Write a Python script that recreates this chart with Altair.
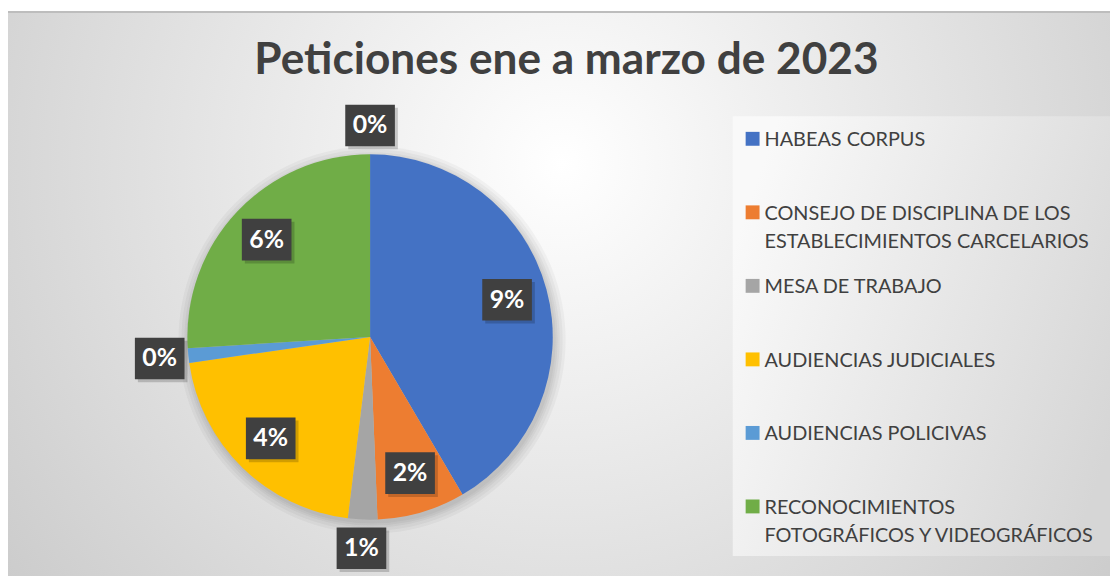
import altair as alt
import pandas as pd

title_text = "Peticiones ene a marzo de 2023"
categories = [
    "HABEAS CORPUS",
    "CONSEJO DE DISCIPLINA DE LOS|ESTABLECIMIENTOS CARCELARIOS",
    "MESA DE TRABAJO",
    "AUDIENCIAS JUDICIALES",
    "AUDIENCIAS POLICIVAS",
    "RECONOCIMIENTOS|FOTOGRÁFICOS Y VIDEOGRÁFICOS",
    "OTROS",
]
values = [32, 6, 2, 16, 1, 20, 0]
labels = ["9%", "2%", "1%", "4%", "0%", "6%", "0%"]
colors = ["#4472C4", "#ED7D31", "#A5A5A5", "#FFC000", "#5B9BD5", "#70AD47", "#7F7F7F"]
legend_cats = categories[:6]

df = pd.DataFrame({"cat": categories, "v": values, "label": labels, "i": list(range(len(values)))})

W, H = 1110, 568
CX, CY = 364.7, 329.3
R = 184
R_IN = 143
R_OUT = 213
BW, BH = 50, 42

color_scale = alt.Scale(domain=categories, range=colors)

gradient = {
    "gradient": "radial",
    "x1": 0.5, "y1": 0.38, "r1": 0,
    "x2": 0.5, "y2": 0.38, "r2": 0.72,
    "stops": [
        {"offset": 0, "color": "#ffffff"},
        {"offset": 1, "color": "#c4c4c4"},
    ],
}
legend_gradient = {
    "gradient": "linear",
    "x1": 0, "y1": 0.3, "x2": 1, "y2": 0.7,
    "stops": [
        {"offset": 0, "color": "#f9f9f9"},
        {"offset": 1, "color": "#d6d6d6"},
    ],
}

one = pd.DataFrame({"t": [title_text]})

bg = alt.Chart(one).mark_rect(fill=gradient, strokeWidth=0).encode(
    x=alt.value(-2), x2=alt.value(W + 8), y=alt.value(2), y2=alt.value(H + 8)
)
top_line = alt.Chart(one).mark_rule(color="#bdbdbd", strokeWidth=2).encode(
    x=alt.value(-2), x2=alt.value(W + 8), y=alt.value(2)
)
leg_bg = alt.Chart(one).mark_rect(fill=legend_gradient, strokeWidth=0).encode(
    x=alt.value(730), x2=alt.value(W + 8), y=alt.value(107), y2=alt.value(550)
)

title = alt.Chart(one).mark_text(
    font="Lato", fontWeight="bold", fontSize=44.5, color="#404040",
    align="center", baseline="alphabetic",
).encode(x=alt.value(562.5), y=alt.value(64), text="t:N")

shadow_rings = alt.layer(*[
    alt.Chart(one).mark_arc(
        outerRadius=R + k, color="#000000", opacity=0.035, theta=0, theta2=6.2832
    ).encode(x=alt.value(CX + 2), y=alt.value(CY + 3))
    for k in (1, 3, 5, 8, 11)
])

base = alt.Chart(df)

pie = base.mark_arc(outerRadius=R, stroke=None).encode(
    theta=alt.Theta("v:Q", stack=True),
    color=alt.Color("cat:N", scale=color_scale, legend=None),
    order=alt.Order("i:Q"),
    x=alt.value(CX),
    y=alt.value(CY),
)

lab = base.transform_window(
    cum="sum(v)", sort=[alt.SortField("i")], frame=[None, 0]
).transform_joinaggregate(total="sum(v)").transform_calculate(
    mid="(datum.cum - datum.v / 2) / datum.total * 2 * PI",
    r=f"datum.v / datum.total < 0.03 ? {R_OUT} : {R_IN}",
).transform_calculate(
    lx=f"{CX} + datum.r * sin(datum.mid)",
    ly=f"{CY} - datum.r * cos(datum.mid)",
).transform_calculate(
    bx1=f"datum.lx - {BW/2}", bx2=f"datum.lx + {BW/2}",
    by1=f"datum.ly - {BH/2}", by2=f"datum.ly + {BH/2}",
    sx1=f"datum.lx - {BW/2} + 3", sx2=f"datum.lx + {BW/2} + 3",
    sy1=f"datum.ly - {BH/2} + 3", sy2=f"datum.ly + {BH/2} + 3",
)

shadow = lab.mark_rect(color="#000000", opacity=0.18).encode(
    x=alt.X("sx1:Q", scale=None, axis=None), x2="sx2:Q",
    y=alt.Y("sy1:Q", scale=None, axis=None), y2="sy2:Q",
)
box = lab.mark_rect(color="#404040").encode(
    x=alt.X("bx1:Q", scale=None, axis=None), x2="bx2:Q",
    y=alt.Y("by1:Q", scale=None, axis=None), y2="by2:Q",
)
txt = lab.mark_text(
    font="Lato", fontWeight="bold", fontSize=25, color="white",
    align="center", baseline="middle",
).encode(
    x=alt.X("lx:Q", scale=None, axis=None),
    y=alt.Y("ly:Q", scale=None, axis=None),
    text="label:N",
)

leg = base.transform_filter(alt.FieldOneOfPredicate(field="cat", oneOf=legend_cats))
leg_y = alt.Y(
    "cat:N",
    scale=alt.Scale(type="point", domain=legend_cats, range=[129.7, 500], padding=0),
    axis=None,
)
leg_sym = leg.mark_square(size=196, opacity=1, filled=True).encode(
    x=alt.value(750), y=leg_y,
    color=alt.Color("cat:N", scale=color_scale, legend=None),
)
leg_txt = leg.mark_text(
    align="left", baseline="alphabetic", dy=7.5, font="Lato", fontSize=20,
    color="#404040", lineBreak="|", lineHeight=28,
).encode(x=alt.value(762), y=leg_y, text="cat:N")

chart = alt.layer(
    bg, top_line, leg_bg, title, shadow_rings, pie, shadow, box, txt, leg_sym, leg_txt
).resolve_scale(x="independent", y="independent").properties(
    width=W, height=H, padding=0, autosize=alt.AutoSizeParams(type="none"),
    background="white",
).configure_view(stroke=None)

chart.save("out.html", embed_options={"renderer": "svg", "actions": False})
